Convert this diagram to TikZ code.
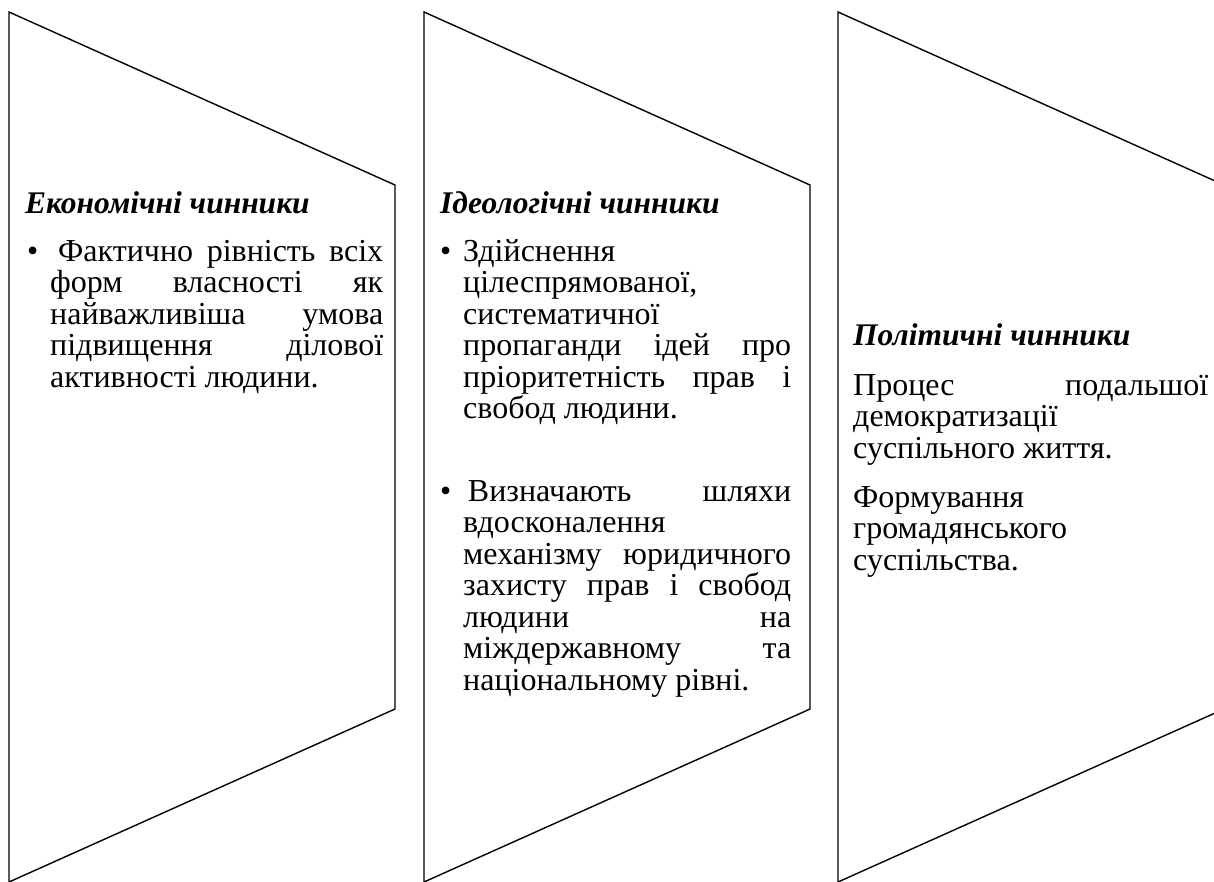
\documentclass[tikz,border=0pt]{standalone}
\usepackage{fontspec}
\setmainfont{Liberation Serif}
\newcommand{\jl}[1]{\makebox[\linewidth][s]{#1}}
\newcommand{\bul}{\leavevmode\llap{\makebox[23pt][l]{•}}}
\newcommand{\bodyfont}{\fontsize{32}{31.5}\selectfont}
\tikzset{
  chevron/.style={draw=black, line width=1.4pt, line join=miter},
  bodytxt/.style={anchor=base west, inner sep=0pt, font=\bodyfont},
  headtxt/.style={anchor=base west, inner sep=0pt, font=\fontsize{31.5}{31.5}\selectfont\bfseries\itshape}
}
\begin{document}
\begin{tikzpicture}[x=1pt,y=-1pt]
\useasboundingbox (0,0) rectangle (1214,881);
\clip (0,0) rectangle (1214,881);
\fill[white] (0,0) rectangle (1214,881);
% chevrons
\foreach \L in {9,424,838}{
  \draw[chevron] (\L,12) -- (\L+386,185) -- (\L+386,709) -- (\L,882) -- cycle;
}
% shape 1
\node[headtxt] (h1) at (25,213) {Економічні чинники};
\node[bodytxt] (p1) at (50,261) {\parbox[t]{333pt}{\bodyfont
\bul\jl{\hspace*{0.25em}Фактично рівність всіх}\\
\jl{форм власності як}\\
\jl{найважливіша умова}\\
\jl{підвищення ділової}\\
активності людини.}};
% shape 2
\node[headtxt] (h2) at (440,213) {Ідеологічні чинники};
\node[bodytxt] (p2) at (463,261) {\parbox[t]{328pt}{\bodyfont
\bul Здійснення\\
цілеспрямованої,\\
систематичної\\
\jl{пропаганди ідей про}\\
\jl{пріоритетність прав і}\\
свобод людини.}};
\node[bodytxt] (p3) at (463,501) {\parbox[t]{328pt}{\bodyfont
\bul\jl{\hspace*{0.15em}Визначають шляхи}\\
вдосконалення\\
\jl{механізму юридичного}\\
\jl{захисту прав і свобод}\\
\jl{людини на}\\
\jl{міждержавному та}\\
національному рівні.}};
% shape 3
\node[headtxt] (h3) at (853,345) {Політичні чинники};
\node[bodytxt] (p4) at (853,395) {\parbox[t]{355pt}{\bodyfont
\jl{Процес подальшої}\\
демократизації\\
суспільного життя.}};
\node[bodytxt] (p5) at (853,507) {\parbox[t]{355pt}{\bodyfont
Формування\\
громадянського\\
суспільства.}};
\end{tikzpicture}
\end{document}
